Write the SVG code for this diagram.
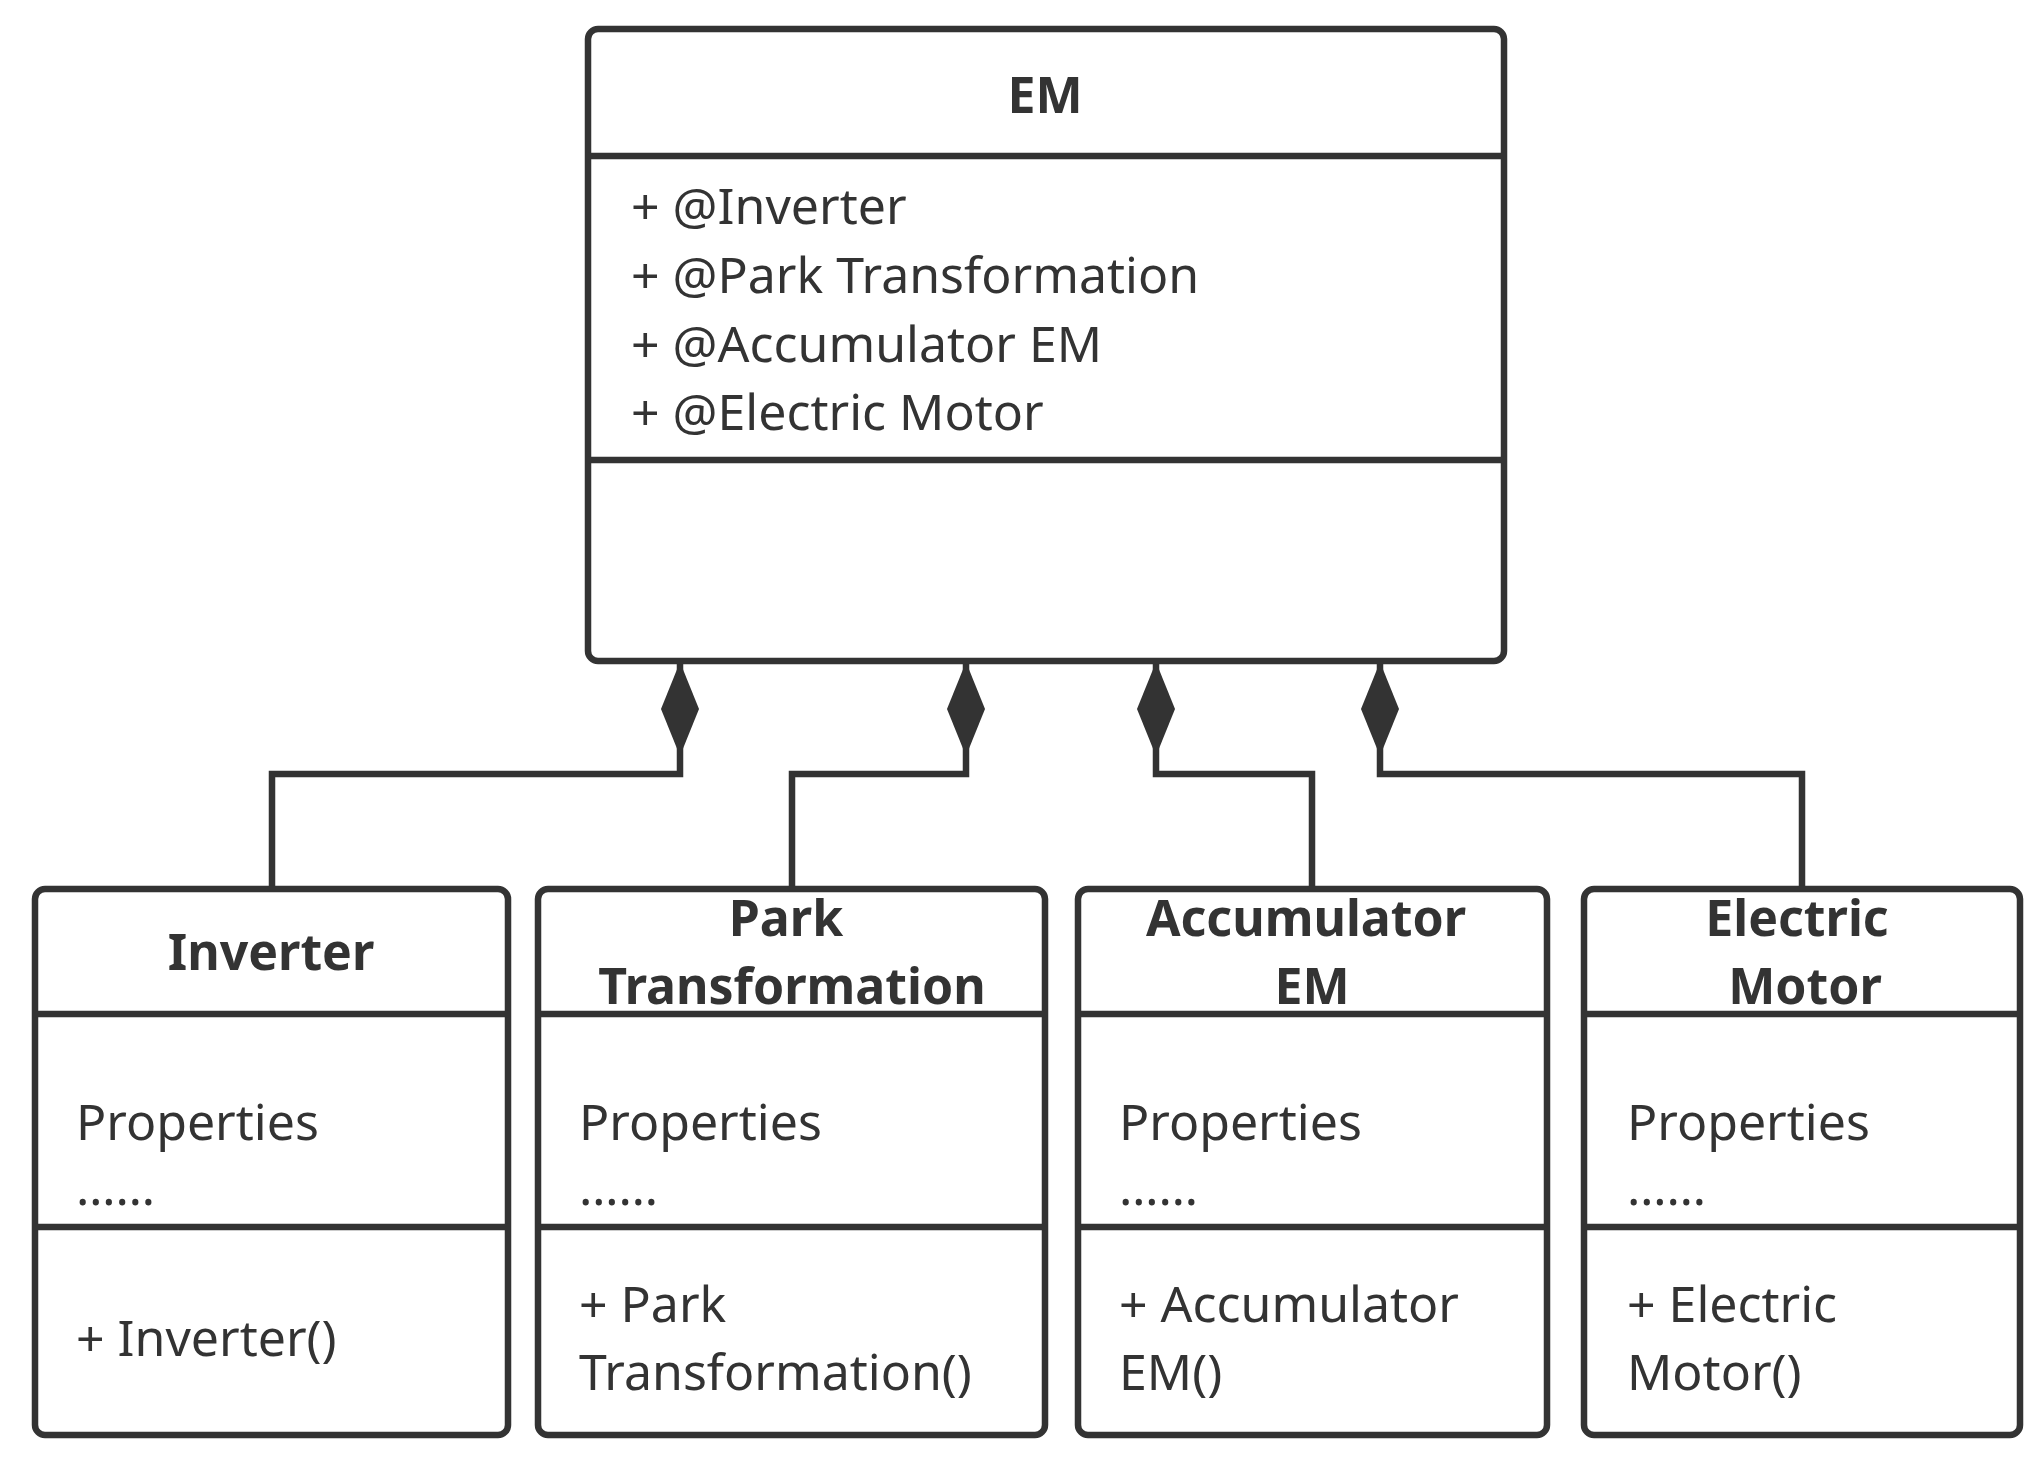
<svg xmlns="http://www.w3.org/2000/svg" width="2043" height="1462" viewBox="0 0 2043 1462">
<style>
.b{fill:#fff;stroke:#333;stroke-width:6.5}
.l{stroke:#333;stroke-width:6.5;fill:none}
text{font-family:"Noto Sans","Liberation Sans",sans-serif;fill:#333;font-size:50px}
.t{font-weight:bold;text-anchor:middle}
</style>
<defs><marker id="d" markerWidth="42" markerHeight="98" refX="20" refY="2" orient="0" markerUnits="userSpaceOnUse"><path d="M20 2 L39 49 L20 96 L1 49 Z" fill="#333"/></marker></defs>
<rect width="2043" height="1462" fill="#fff"/>
<g id="connectors">
<path class="l" d="M680 662 V774 H272 V889" marker-start="url(#d)"/>
<path class="l" d="M966 662 V774 H792 V889" marker-start="url(#d)"/>
<path class="l" d="M1156 662 V774 H1312 V889" marker-start="url(#d)"/>
<path class="l" d="M1380 662 V774 H1802 V889" marker-start="url(#d)"/>
</g>
<g id="EM">
<rect class="b" x="588" y="29" width="916" height="632" rx="10"/>
<line class="l" x1="588" y1="156" x2="1504" y2="156"/>
<line class="l" x1="588" y1="460" x2="1504" y2="460"/>
<text class="t" x="1045" y="113">EM</text>
<text x="631" y="224">+ @Inverter</text>
<text x="631" y="293">+ @Park Transformation</text>
<text x="631" y="362">+ @Accumulator EM</text>
<text x="631" y="430">+ @Electric Motor</text>
</g>
<g id="Inverter">
<rect class="b" x="35" y="889" width="473" height="546" rx="10"/>
<line class="l" x1="35" y1="1014" x2="508" y2="1014"/>
<line class="l" x1="35" y1="1227" x2="508" y2="1227"/>
<text class="t" x="271" y="970">Inverter</text>
<text x="76" y="1140">Properties</text>
<text x="76" y="1205">……</text>
<text x="76" y="1356">+ Inverter()</text>
</g>
<g id="Park">
<rect class="b" x="538" y="889" width="507" height="546" rx="10"/>
<line class="l" x1="538" y1="1014" x2="1045" y2="1014"/>
<line class="l" x1="538" y1="1227" x2="1045" y2="1227"/>
<text class="t" x="786" y="936">Park</text>
<text class="t" x="792" y="1004">Transformation</text>
<text x="579" y="1140">Properties</text>
<text x="579" y="1205">……</text>
<text x="579" y="1322">+ Park</text>
<text x="579" y="1390">Transformation()</text>
</g>
<g id="Accumulator">
<rect class="b" x="1078" y="889" width="469" height="546" rx="10"/>
<line class="l" x1="1078" y1="1014" x2="1547" y2="1014"/>
<line class="l" x1="1078" y1="1227" x2="1547" y2="1227"/>
<text class="t" x="1306" y="936">Accumulator</text>
<text class="t" x="1312" y="1004">EM</text>
<text x="1119" y="1140">Properties</text>
<text x="1119" y="1205">……</text>
<text x="1119" y="1322">+ Accumulator</text>
<text x="1119" y="1390">EM()</text>
</g>
<g id="Electric">
<rect class="b" x="1584" y="889" width="436" height="546" rx="10"/>
<line class="l" x1="1584" y1="1014" x2="2020" y2="1014"/>
<line class="l" x1="1584" y1="1227" x2="2020" y2="1227"/>
<text class="t" x="1797" y="936">Electric</text>
<text class="t" x="1805" y="1004">Motor</text>
<text x="1627" y="1140">Properties</text>
<text x="1627" y="1205">……</text>
<text x="1627" y="1322">+ Electric</text>
<text x="1627" y="1390">Motor()</text>
</g>
</svg>
